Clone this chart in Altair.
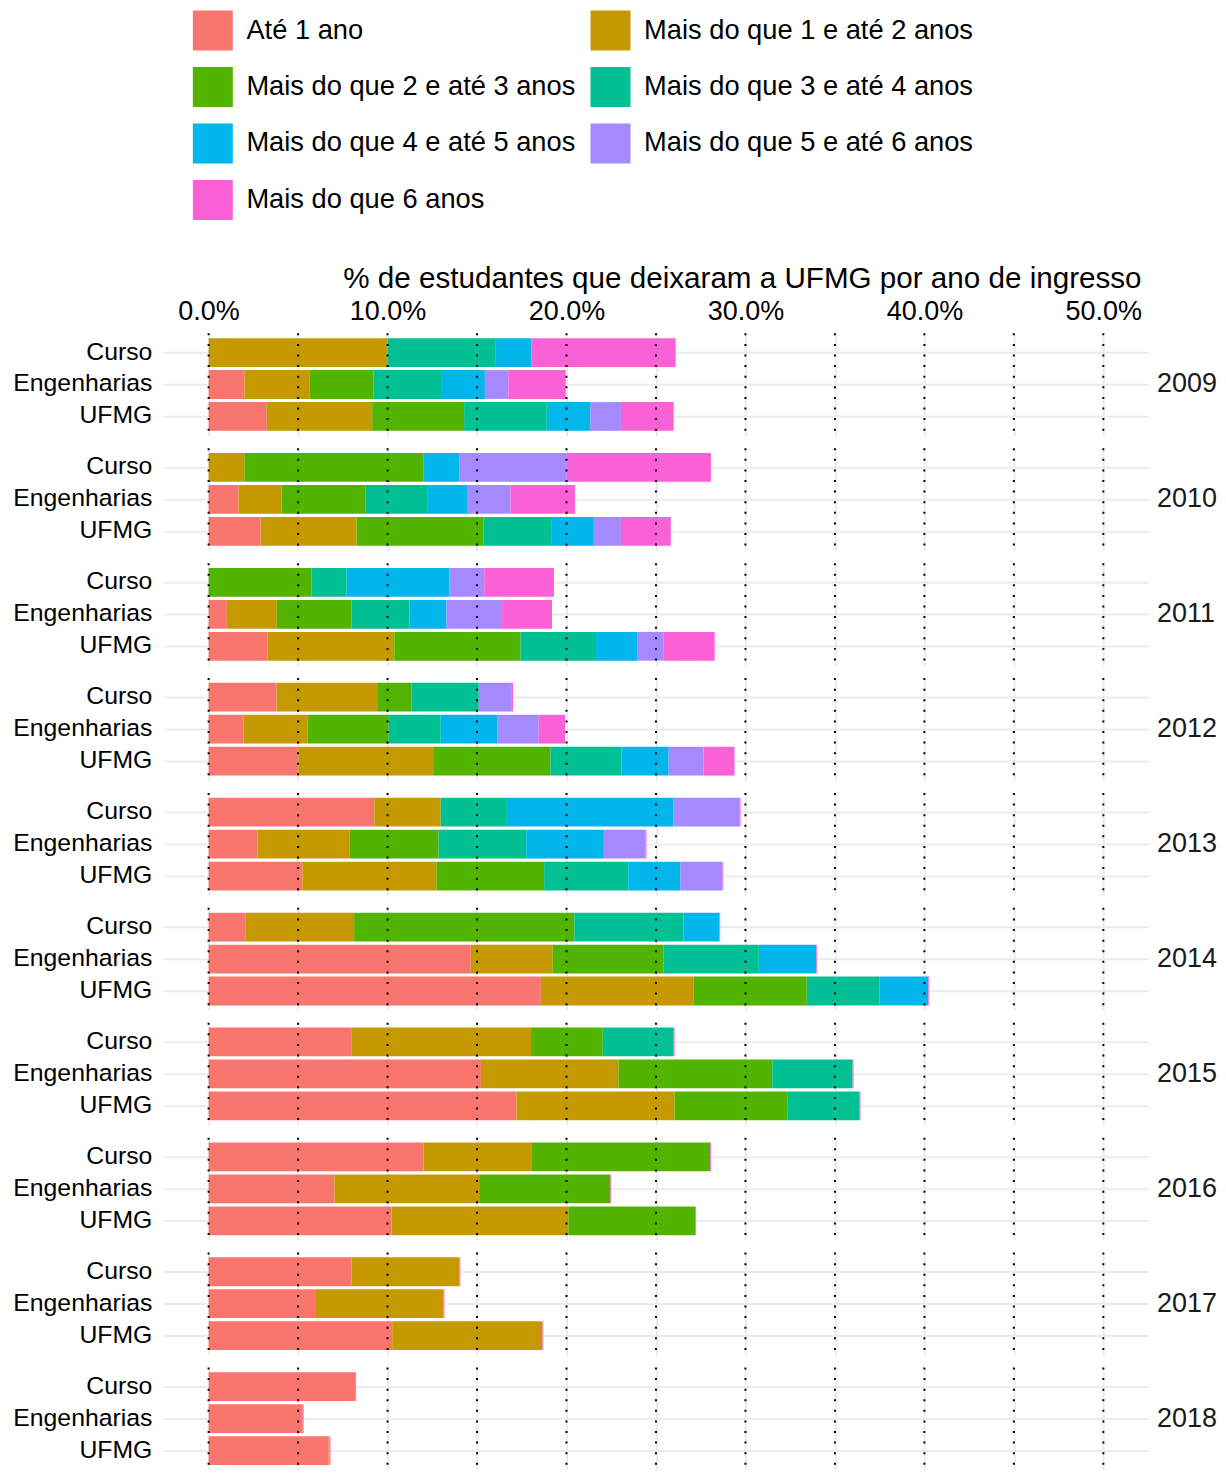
import altair as alt
import pandas as pd

anos = ["2009", "2010", "2011", "2012", "2013", "2014", "2015", "2016", "2017", "2018"]
grupos = ["Curso", "Engenharias", "UFMG"]
categorias = [
    "Até 1 ano",
    "Mais do que 1 e até 2 anos",
    "Mais do que 2 e até 3 anos",
    "Mais do que 3 e até 4 anos",
    "Mais do que 4 e até 5 anos",
    "Mais do que 5 e até 6 anos",
    "Mais do que 6 anos",
]
cores = ["#F8766D", "#C49A00", "#53B400", "#00C094", "#00B6EB", "#A58AFF", "#FB61D7"]

# values in %, order: (2009 Curso, 2009 Engenharias, 2009 UFMG, 2010 Curso, ...)
ate_1 = [0, 2.0, 3.25, 0, 1.67, 2.91, 0, 1.02, 3.29, 3.80, 1.95, 5.02, 9.26, 2.73, 5.24,
         2.05, 14.65, 18.57, 7.97, 15.22, 17.20, 12.01, 7.03, 10.22, 7.99, 6.00, 10.26,
         8.19, 5.26, 6.71]
de_1_a_2 = [10.0, 3.63, 5.89, 2.0, 2.41, 5.36, 0, 2.79, 7.09, 5.62, 3.57, 7.53, 3.71, 5.14,
            7.49, 6.08, 4.58, 8.52, 10.05, 7.68, 8.84, 6.02, 8.09, 9.88, 6.03, 7.13, 8.39,
            0, 0, 0.05]
de_2_a_3 = [0, 3.58, 5.14, 10.0, 4.70, 7.09, 5.76, 4.18, 7.05, 1.91, 4.54, 6.55, 0, 4.98,
            6.02, 12.31, 6.20, 6.34, 4.01, 8.60, 6.33, 10.0, 7.33, 7.09, 0, 0, 0, 0, 0, 0]
de_3_a_4 = [6.05, 3.78, 4.62, 0, 3.43, 3.78, 1.95, 3.23, 4.22, 3.77, 2.91, 3.98, 3.70, 4.90,
            4.70, 6.10, 5.32, 4.05, 3.96, 4.49, 4.01, 0, 0, 0, 0, 0, 0, 0, 0, 0]
de_4_a_5 = [2.0, 2.45, 2.43, 2.0, 2.23, 2.39, 5.74, 2.07, 2.33, 0, 3.15, 2.63, 9.29, 4.34,
            2.91, 2.00, 3.21, 2.74, 0, 0, 0, 0, 0, 0, 0, 0, 0, 0, 0, 0]
de_5_a_6 = [0, 1.31, 1.71, 6.02, 2.43, 1.51, 1.95, 3.11, 1.45, 1.85, 2.33, 1.95, 3.72, 2.33,
            2.35, 0, 0, 0, 0, 0, 0, 0, 0, 0, 0, 0, 0, 0, 0, 0]
mais_6 = [8.05, 3.21, 2.95, 8.05, 3.61, 2.79, 3.90, 2.79, 2.85, 0.06, 1.47, 1.73, 0.05, 0.05,
          0.05, 0.05, 0.05, 0.05, 0.05, 0.05, 0.05, 0.05, 0.05, 0.05, 0.05, 0.05, 0.05,
          0.05, 0.05, 0.05]

series = [ate_1, de_1_a_2, de_2_a_3, de_3_a_4, de_4_a_5, de_5_a_6, mais_6]
linhas_x = list(range(0, 51, 5))

rows = []
for k, (cat, vals) in enumerate(zip(categorias, series)):
    for i, v in enumerate(vals):
        if v > 0:
            rows.append({"tipo": "barra", "ano": anos[i // 3], "grupo": grupos[i % 3],
                         "cat": cat, "ordem": k, "valor": v})
for a in anos:
    for p in linhas_x:
        rows.append({"tipo": "linha", "ano": a, "pos": p})
df = pd.DataFrame(rows)

FONT = "Liberation Sans"

bars = alt.Chart().transform_filter("datum.tipo == 'barra'").mark_bar(strokeWidth=0).encode(
    x=alt.X(
        "valor:Q",
        stack="zero",
        scale=alt.Scale(domain=[-2.5, 52.5], nice=False, zero=False),
        axis=alt.Axis(
            orient="top",
            values=linhas_x,
            labelExpr="datum.value % 10 == 0 ? format(datum.value, '.1f') + '%' : ''",
            labelFlush=False,
            labelOverlap=False,
            labelFontSize=27,
            labelColor="black",
            labelPadding=7,
            ticks=False,
            domain=False,
            grid=True,
            gridColor="#EBEBEB",
            gridWidth=2,
            title="% de estudantes que deixaram a UFMG por ano de ingresso",
            titleFontSize=29.65,
            titleFontWeight="normal",
            titleColor="black",
            titleX=978,
            titleAlign="right",
            titlePadding=4,
        ),
    ),
    y=alt.Y(
        "grupo:N",
        sort=grupos,
        title=None,
        scale=alt.Scale(paddingInner=0.1, paddingOuter=0.15),
        axis=alt.Axis(
            labelFontSize=24.8,
            labelColor="black",
            labelPadding=12,
            ticks=False,
            domain=False,
            grid=True,
            gridColor="#EBEBEB",
            gridWidth=2,
            bandPosition=0.5,
        ),
    ),
    color=alt.Color(
        "cat:N",
        scale=alt.Scale(domain=categorias, range=cores),
        legend=alt.Legend(
            title=None,
            orient="none",
            legendX=29,
            legendY=-323,
            padding=0,
            direction="horizontal",
            columns=2,
            symbolType="square",
            symbolSize=1600,
            symbolStrokeWidth=0,
            symbolOpacity=1,
            labelFontSize=27.3,
            labelColor="black",
            labelOffset=13.6,
            labelLimit=0,
            rowPadding=16.5,
            columnPadding=15,
        ),
    ),
    order=alt.Order("ordem:Q", sort="ascending"),
)

rules = alt.Chart().transform_filter("datum.tipo == 'linha'").mark_rule(
    color="black", strokeWidth=2, strokeDash=[2, 8.6]
).encode(x=alt.X("pos:Q"))

chart = (
    alt.layer(bars, rules, data=df)
    .properties(width=985, height=102.4)
    .facet(
        row=alt.Row(
            "ano:N",
            header=alt.Header(
                title=None,
                labelOrient="right",
                labelAngle=0,
                labelAlign="right",
                labelBaseline="middle",
                labelFontSize=27,
                labelColor="#1A1A1A",
                labelPadding=9,
            ),
        ),
        spacing=10.0,
    )
    .properties(padding={"left": 4, "top": 2, "right": 0, "bottom": 0})
    .configure(font=FONT)
    .configure_view(stroke=None)
)

chart.save("out.html", embed_options={"renderer": "svg", "actions": False})
